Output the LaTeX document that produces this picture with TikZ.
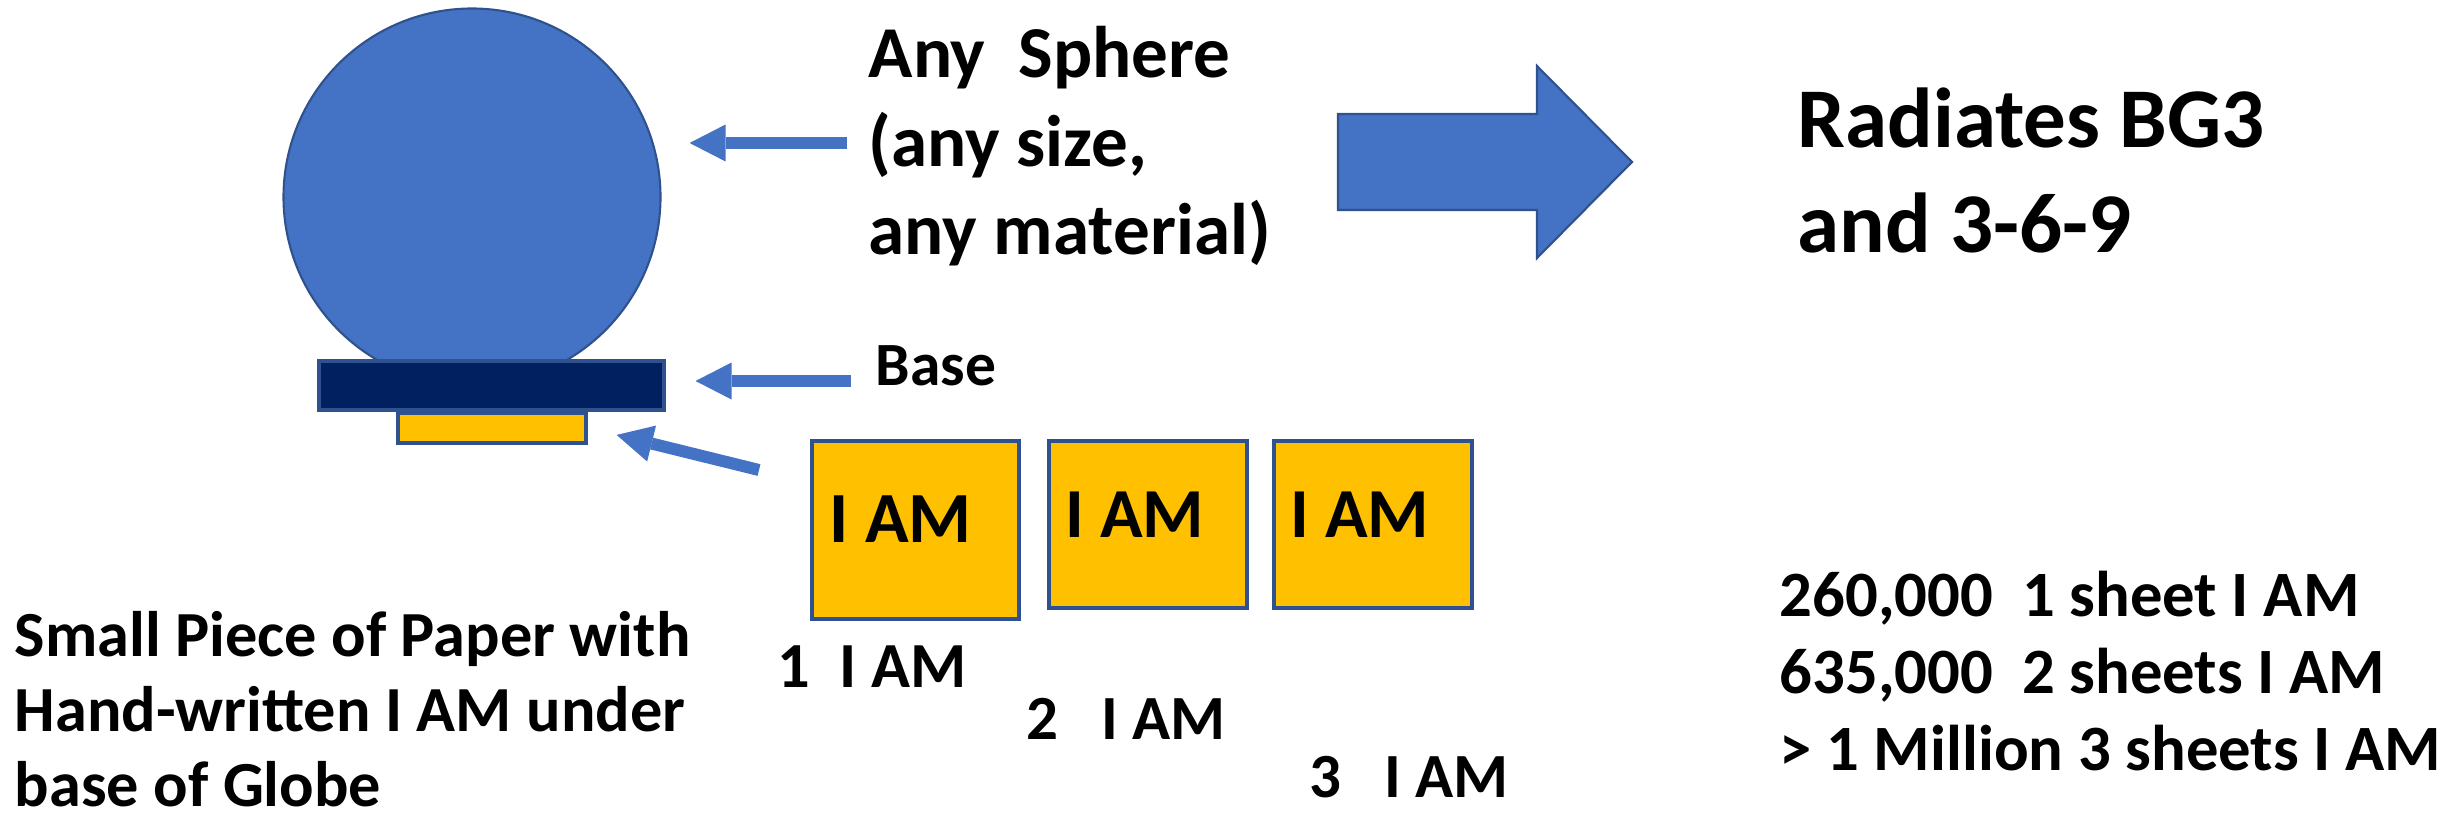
\documentclass[tikz,border=0pt]{standalone}
\usepackage{fontspec}
\setmainfont{Carlito}
\usepackage{xcolor}
\usetikzlibrary{arrows.meta,positioning}

\definecolor{globeblue}{HTML}{4472C4}
\definecolor{rimblue}{HTML}{2F528F}
\definecolor{basenavy}{HTML}{002060}
\definecolor{papergold}{HTML}{FFC000}

\begin{document}
\begin{tikzpicture}[
    note/.style={inner sep=0, anchor=base west, align=left, font=\bfseries},
    sheet/.style={rectangle, draw=rimblue, line width=1pt, fill=papergold, inner sep=0, anchor=north west},
    pointer/.style={draw=globeblue, line width=0.12cm, -{Triangle[length=0.36cm, width=0.37cm, line width=0pt]}}
]
    \useasboundingbox (0,0) rectangle (24.48,-8.20);

    % globe on its base, small paper underneath
    \node[circle, draw=rimblue, line width=0.6pt, fill=globeblue, minimum size=3.77cm, inner sep=0] (globe) at (4.72,-1.97) {};
    \node[sheet, fill=basenavy, minimum width=3.45cm, minimum height=0.49cm] (base) at (3.17,-3.59) {};
    \node[sheet, minimum width=1.88cm, minimum height=0.30cm] (paper) at (3.96,-4.11) {};

    % the three sheets
    \node[sheet, minimum width=2.07cm, minimum height=1.78cm] (sheet1) at (8.10,-4.39) {};
    \node[sheet, minimum width=1.98cm, minimum height=1.67cm] (sheet2) at (10.47,-4.39) {};
    \node[sheet, minimum width=1.98cm, minimum height=1.67cm] (sheet3) at (12.72,-4.39) {};
    \node[note, font=\bfseries\fontsize{20.5}{24}\selectfont] (iam1) at (8.29,-5.42) {I AM};
    \node[note, font=\bfseries\fontsize{20}{24}\selectfont] (iam2) at (10.65,-5.37) {I AM};
    \node[note, font=\bfseries\fontsize{20}{24}\selectfont] (iam3) at (12.90,-5.37) {I AM};

    % texts (multi-line ones sit on their last baseline)
    \node[note, font=\bfseries\fontsize{20.8}{25.3}\selectfont] (sphere) at (8.68,-2.55) {Any\ \ Sphere\\(any size,\\any material)};
    \node[note, font=\bfseries\fontsize{17.5}{20}\selectfont] (baselbl) at (8.75,-3.85) {Base};
    \node[note, font=\bfseries\fontsize{24.2}{29.6}\selectfont] (radiates) at (17.97,-2.52) {Radiates BG3\\and 3-6-9};
    \node[note, font=\bfseries\fontsize{18.3}{21.2}\selectfont] (paperlbl) at (0.14,-8.06) {Small Piece of Paper with\\Hand-written I AM under\\base of Globe};
    \node[note, font=\bfseries\fontsize{18.3}{21.3}\selectfont] (count1) at (7.77,-6.87) {1\ \ I AM};
    \node[note, font=\bfseries\fontsize{17.9}{21.3}\selectfont] (count2) at (10.26,-7.39) {2\ \ \ I AM};
    \node[note, font=\bfseries\fontsize{17.9}{21.3}\selectfont] (count3) at (13.09,-7.97) {3\ \ \ I AM};
    \node[note, font=\bfseries\fontsize{18.4}{21.9}\selectfont] (stats) at (17.79,-7.70) {260,000\ \ 1 sheet I AM\\635,000\ \ 2 sheets I AM\\> 1 Million 3 sheets I AM};

    % big arrow
    \draw[draw=rimblue, line width=0.6pt, fill=globeblue] (13.38,-1.14) -- (15.37,-1.14) -- (15.37,-0.66) -- (16.32,-1.62)
        -- (15.37,-2.58) -- (15.37,-2.10) -- (13.38,-2.10) -- cycle;

    % pointers
    \coordinate (spheretail) at (8.47,-1.43);
    \coordinate (basetail) at (8.51,-3.81);
    \coordinate (papertail) at (7.59,-4.70);
    \draw[pointer, shorten >=0.28cm] (spheretail) -- (spheretail -| globe.east);
    \draw[pointer, shorten >=0.30cm] (basetail) -- (basetail -| base.east);
    \draw[pointer, shorten >=0.30cm] (papertail) -- (paper.east);
\end{tikzpicture}
\end{document}
